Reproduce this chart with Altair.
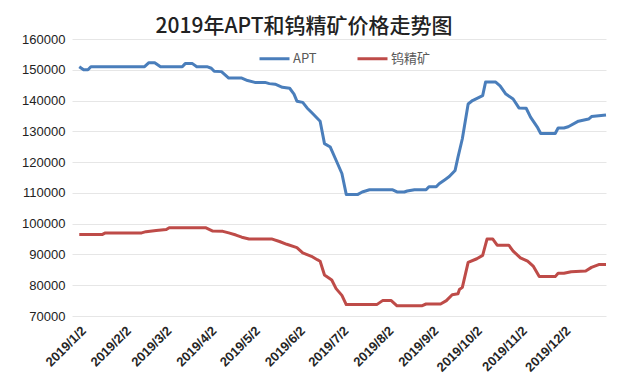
import altair as alt
import pandas as pd

apt_dates = ["2019/1/2", "2019/1/5", "2019/1/8", "2019/1/10", "2019/2/16", "2019/2/19", "2019/2/23",
             "2019/2/27", "2019/3/14", "2019/3/16", "2019/3/21", "2019/3/24", "2019/3/31", "2019/4/3",
             "2019/4/5", "2019/4/10", "2019/4/15", "2019/4/24", "2019/4/28", "2019/5/3", "2019/5/10",
             "2019/5/13", "2019/5/17", "2019/5/22", "2019/5/27", "2019/5/30", "2019/6/1", "2019/6/5",
             "2019/6/8", "2019/6/12", "2019/6/17", "2019/6/20", "2019/6/24", "2019/6/28", "2019/7/2",
             "2019/7/5", "2019/7/13", "2019/7/16", "2019/7/21", "2019/8/6", "2019/8/9", "2019/8/14",
             "2019/8/16", "2019/8/21", "2019/8/29", "2019/8/31", "2019/9/5", "2019/9/7", "2019/9/11",
             "2019/9/14", "2019/9/18", "2019/9/20", "2019/9/23", "2019/9/27", "2019/9/30", "2019/10/7",
             "2019/10/9", "2019/10/16", "2019/10/19", "2019/10/23", "2019/10/28", "2019/11/1",
             "2019/11/6", "2019/11/9", "2019/11/14", "2019/11/16", "2019/11/26", "2019/11/28",
             "2019/12/2", "2019/12/5", "2019/12/12", "2019/12/19", "2019/12/21", "2019/12/31"]
apt_values = [151000, 150000, 150000, 151000, 151000, 152300, 152300,
              151000, 151000, 152000, 152000, 151000, 151000, 150500,
              149500, 149400, 147300, 147300, 146500, 145900, 145900,
              145500, 145300, 144300, 144000, 142100, 139800, 139400,
              137600, 135700, 133300, 126000, 124900, 120600, 116300,
              109500, 109500, 110300, 111000, 111000, 110300, 110300,
              110600, 111000, 111000, 112000, 112000, 113000, 114300,
              115300, 117300, 121600, 127600, 138900, 140000, 141600,
              146000, 146000, 144800, 142100, 140500, 137600,
              137500, 134600, 131100, 129300, 129300, 131100,
              131100, 131500, 133300, 134000, 134800, 135300]

ore_dates = ["2019/1/2", "2019/1/18", "2019/1/20", "2019/2/14", "2019/2/17", "2019/2/24", "2019/3/3",
             "2019/3/5", "2019/3/30", "2019/4/4", "2019/4/11", "2019/4/15", "2019/4/20", "2019/4/24",
             "2019/4/29", "2019/5/15", "2019/5/20", "2019/5/25", "2019/6/1", "2019/6/5", "2019/6/11",
             "2019/6/15", "2019/6/17", "2019/6/20", "2019/6/25", "2019/6/28", "2019/7/2", "2019/7/5",
             "2019/7/26", "2019/7/30", "2019/8/5", "2019/8/9", "2019/8/26", "2019/8/29", "2019/9/8",
             "2019/9/12", "2019/9/16", "2019/9/20", "2019/9/21", "2019/9/23", "2019/9/27", "2019/10/3",
             "2019/10/7", "2019/10/10", "2019/10/14", "2019/10/17", "2019/10/25", "2019/10/28",
             "2019/11/2", "2019/11/7", "2019/11/11", "2019/11/15", "2019/11/26", "2019/11/28",
             "2019/12/2", "2019/12/7", "2019/12/17", "2019/12/21", "2019/12/26", "2019/12/31"]
ore_values = [96500, 96500, 97000, 97000, 97400, 97800, 98100,
              98700, 98700, 97600, 97500, 97000, 96300, 95600,
              95000, 95000, 94200, 93300, 92200, 90500, 89400,
              88300, 87800, 83300, 81700, 78900, 76700, 73700,
              73700, 75000, 75000, 73300, 73300, 73900, 73900,
              75000, 76900, 77200, 78600, 79300, 87400, 88600,
              89700, 95000, 95000, 93000, 93000, 91100,
              88900, 87800, 86100, 82800, 82800, 83900,
              83900, 84400, 84600, 85800, 86700, 86700]

series_names = ["APT", "钨精矿"]
series_colors = ["#4A7EBB", "#BE4B48"]
y_ticks = [70000, 80000, 90000, 100000, 110000, 120000, 130000, 140000, 150000, 160000]
x_tick_months = list(range(1, 13))

df = pd.concat([
    pd.DataFrame({"date": apt_dates, "value": apt_values, "series": series_names[0], "order": range(len(apt_dates))}),
    pd.DataFrame({"date": ore_dates, "value": ore_values, "series": series_names[1], "order": range(len(ore_dates))}),
])

font = "Liberation Sans"

chart = alt.Chart(df).mark_line(strokeWidth=3, strokeJoin="round").encode(
    x=alt.X("date:T",
            scale=alt.Scale(domain=[alt.DateTime(year=2018, month=12, date=28),
                                    alt.DateTime(year=2019, month=12, date=31)]),
            axis=alt.Axis(title=None, values=[alt.DateTime(year=2019, month=m, date=2) for m in x_tick_months],
                          format="%Y/%-m/%-d", labelAngle=-45, domain=False, ticks=False, grid=False,
                          labelOverlap=False, labelBound=False,
                          labelFont=font, labelFontSize=13, labelFontWeight="bold",
                          labelColor="#262626", labelPadding=8)),
    y=alt.Y("value:Q",
            scale=alt.Scale(domain=[70000, 160000], nice=False, zero=False),
            axis=alt.Axis(title=None, values=y_ticks, format="d", domain=False, ticks=False,
                          gridColor="#E6E6E6", gridWidth=1, labelFont=font, labelFontSize=13,
                          labelColor="#222222", labelPadding=7)),
    color=alt.Color("series:N",
                    scale=alt.Scale(domain=series_names, range=series_colors),
                    legend=alt.Legend(title=None, orient="none", legendX=186, legendY=3, direction="horizontal",
                                      symbolType="stroke", symbolSize=900, symbolStrokeWidth=3,
                                      labelFont="Noto Sans CJK SC", labelFontSize=13, labelColor="#595959",
                                      columnPadding=34, labelOffset=2)),
    order="order:Q",
).properties(
    width=534,
    height=277,
    autosize=alt.AutoSizeParams(type="none"),
    padding={"left": 64, "top": 31, "right": 18, "bottom": 60},
    title=alt.TitleParams("2019年APT和钨精矿价格走势图", anchor="start", dx=134, dy=8, fontSize=21,
                          font="Noto Sans CJK SC", fontWeight=500, color="#222222"),
).configure_view(stroke=None)

chart.save("out.html", embed_options={"renderer": "svg", "actions": False})
